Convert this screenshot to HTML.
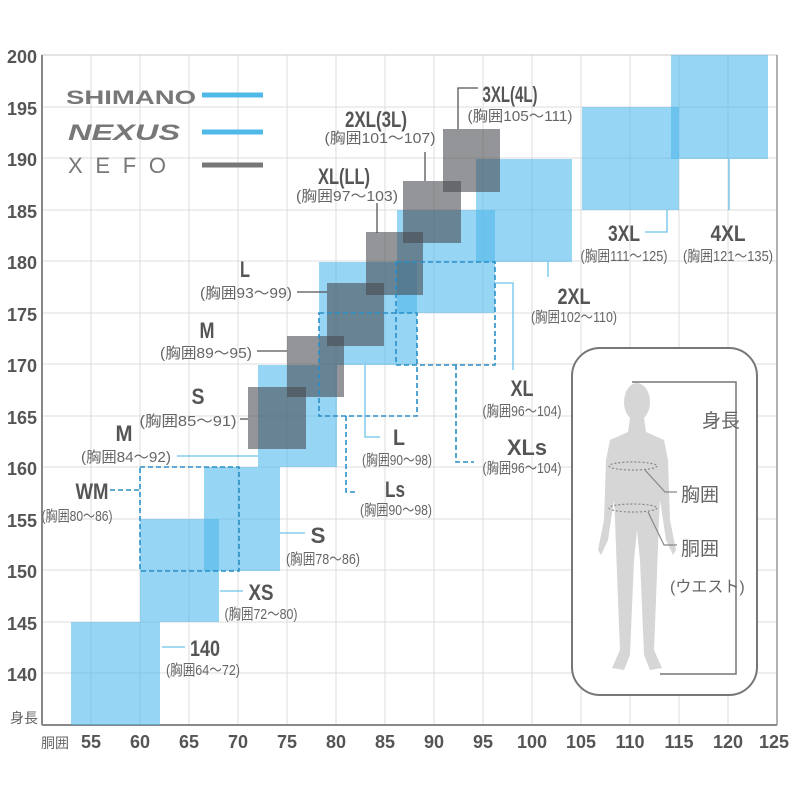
<!DOCTYPE html>
<html><head><meta charset="utf-8"><style>
body{margin:0;background:#fff}
svg{display:block}
.b{font-family:"Liberation Sans",sans-serif;font-weight:bold;font-size:22px;fill:#555;text-anchor:middle}
.s{font-family:"Liberation Sans","Noto Sans CJK JP",sans-serif;font-size:15px;fill:#666;text-anchor:middle}
.ax{font-family:"Liberation Sans",sans-serif;font-weight:bold;font-size:18px;fill:#555}
.j{font-family:"Liberation Sans","Noto Sans CJK JP",sans-serif;font-size:14px;fill:#666}
</style></head><body>
<svg width="800" height="800" viewBox="0 0 800 800" xmlns="http://www.w3.org/2000/svg">
<g stroke="#dcdcdc" stroke-width="1">
<line x1="91" y1="55" x2="91" y2="725"/><line x1="140" y1="55" x2="140" y2="725"/><line x1="189" y1="55" x2="189" y2="725"/><line x1="238" y1="55" x2="238" y2="725"/><line x1="287" y1="55" x2="287" y2="725"/><line x1="336" y1="55" x2="336" y2="725"/><line x1="385" y1="55" x2="385" y2="725"/><line x1="434" y1="55" x2="434" y2="725"/><line x1="483" y1="55" x2="483" y2="725"/><line x1="532" y1="55" x2="532" y2="725"/><line x1="581" y1="55" x2="581" y2="725"/><line x1="630" y1="55" x2="630" y2="725"/><line x1="679" y1="55" x2="679" y2="725"/><line x1="728" y1="55" x2="728" y2="725"/>
<line x1="42" y1="107" x2="777" y2="107"/><line x1="42" y1="158" x2="777" y2="158"/><line x1="42" y1="210" x2="777" y2="210"/><line x1="42" y1="261" x2="777" y2="261"/><line x1="42" y1="313" x2="777" y2="313"/><line x1="42" y1="364" x2="777" y2="364"/><line x1="42" y1="416" x2="777" y2="416"/><line x1="42" y1="467" x2="777" y2="467"/><line x1="42" y1="519" x2="777" y2="519"/><line x1="42" y1="570" x2="777" y2="570"/><line x1="42" y1="622" x2="777" y2="622"/><line x1="42" y1="673" x2="777" y2="673"/>
</g>
<rect x="42" y="55" width="735" height="670" fill="none" stroke="#c8c8c8"/>
<line x1="42" y1="55" x2="42" y2="725" stroke="#888" stroke-width="2"/>
<line x1="42" y1="725" x2="777" y2="725" stroke="#888" stroke-width="2"/>
<line x1="777" y1="55" x2="777" y2="725" stroke="#999" stroke-width="1.5"/>

<g fill="rgb(80,185,235)" fill-opacity="0.6">
<rect x="71" y="622" width="89" height="103"/>
<rect x="140" y="519" width="79" height="103"/>
<rect x="204" y="467" width="76" height="104"/>
<rect x="258" y="365" width="79" height="102"/>
<rect x="319" y="262" width="98" height="103"/>
<rect x="397" y="210" width="98" height="103"/>
<rect x="476" y="159" width="96" height="103"/>
<rect x="582" y="107" width="97" height="103"/>
<rect x="671" y="55" width="97" height="104"/>
</g>
<g fill="rgb(70,72,78)" fill-opacity="0.58">
<rect x="248" y="387" width="58" height="62"/>
<rect x="287" y="336" width="57" height="61"/>
<rect x="327" y="283" width="57" height="63"/>
<rect x="366" y="232" width="57" height="63"/>
<rect x="403" y="181" width="58" height="62"/>
<rect x="443" y="129" width="57" height="63"/>
</g>
<g fill="none" stroke="#2a8fc8" stroke-width="1.6" stroke-dasharray="5,3">
<rect x="140" y="467" width="99" height="104"/>
<rect x="319" y="313" width="98" height="103"/>
<rect x="396" y="262" width="99" height="103"/>
<polyline points="139,490 110,490"/>
<polyline points="456,365 456,462 474,462"/>
<polyline points="346,416 346,492 356,492"/>
</g>
<g fill="none" stroke-width="1.3">
<polyline stroke="#6cc3ea" points="162,647 185,647"/>
<polyline stroke="#6cc3ea" points="220,591 243,591"/>
<polyline stroke="#6cc3ea" points="280,533 305,533"/>
<polyline stroke="#6cc3ea" points="177,456 258,456"/>
<polyline stroke="#6cc3ea" points="365,365 365,437 380,437"/>
<polyline stroke="#6cc3ea" points="495,283 513,283 513,370"/>
<polyline stroke="#6cc3ea" points="548,262 548,277"/>
<polyline stroke="#6cc3ea" points="667,210 667,232 645,232"/>
<polyline stroke="#6cc3ea" points="729,159 729,210"/>
<polyline stroke="#555" points="240,419 248,419"/>
<polyline stroke="#555" points="257,351 287,351"/>
<polyline stroke="#555" points="297,292 327,292"/>
<polyline stroke="#555" points="377,233 377,203"/>
<polyline stroke="#555" points="425,181 425,152"/>
<polyline stroke="#555" points="458,129 458,88 478,88"/>
</g>
<g>
<text class="b" x="205" y="656" textLength="30" lengthAdjust="spacingAndGlyphs">140</text><text class="s" x="203" y="675" textLength="74" lengthAdjust="spacingAndGlyphs">(胸囲64～72)</text>
<text class="b" x="261" y="600" textLength="25" lengthAdjust="spacingAndGlyphs">XS</text><text class="s" x="261" y="619" textLength="73" lengthAdjust="spacingAndGlyphs">(胸囲72～80)</text>
<text class="b" x="318" y="543" textLength="15" lengthAdjust="spacingAndGlyphs">S</text><text class="s" x="323" y="564" textLength="74" lengthAdjust="spacingAndGlyphs">(胸囲78～86)</text>
<text class="b" x="92" y="499" textLength="33" lengthAdjust="spacingAndGlyphs">WM</text><text class="s" x="77" y="521" textLength="71" lengthAdjust="spacingAndGlyphs">(胸囲80～86)</text>
<text class="b" x="124" y="441" textLength="17" lengthAdjust="spacingAndGlyphs">M</text><text class="s" x="126" y="462" textLength="90" lengthAdjust="spacingAndGlyphs">(胸囲84～92)</text>
<text class="b" x="198" y="404" textLength="13" lengthAdjust="spacingAndGlyphs">S</text><text class="s" x="188" y="426" textLength="97" lengthAdjust="spacingAndGlyphs">(胸囲85～91)</text>
<text class="b" x="207" y="338" textLength="15" lengthAdjust="spacingAndGlyphs">M</text><text class="s" x="206" y="358" textLength="92" lengthAdjust="spacingAndGlyphs">(胸囲89～95)</text>
<text class="b" x="245" y="277" textLength="10" lengthAdjust="spacingAndGlyphs">L</text><text class="s" x="246" y="298" textLength="92" lengthAdjust="spacingAndGlyphs">(胸囲93～99)</text>
<text class="b" x="344" y="184" textLength="52" lengthAdjust="spacingAndGlyphs">XL(LL)</text><text class="s" x="347" y="201" textLength="102" lengthAdjust="spacingAndGlyphs">(胸囲97～103)</text>
<text class="b" x="376" y="127" textLength="62" lengthAdjust="spacingAndGlyphs">2XL(3L)</text><text class="s" x="380" y="143" textLength="111" lengthAdjust="spacingAndGlyphs">(胸囲101～107)</text>
<text class="b" x="510" y="102" textLength="55" lengthAdjust="spacingAndGlyphs">3XL(4L)</text><text class="s" x="520" y="121" textLength="105" lengthAdjust="spacingAndGlyphs">(胸囲105～111)</text>
<text class="b" x="574" y="304" textLength="33" lengthAdjust="spacingAndGlyphs">2XL</text><text class="s" x="574" y="322" textLength="86" lengthAdjust="spacingAndGlyphs">(胸囲102～110)</text>
<text class="b" x="624" y="241" textLength="32" lengthAdjust="spacingAndGlyphs">3XL</text><text class="s" x="624" y="261" textLength="87" lengthAdjust="spacingAndGlyphs">(胸囲111～125)</text>
<text class="b" x="728" y="241" textLength="35" lengthAdjust="spacingAndGlyphs">4XL</text><text class="s" x="728" y="261" textLength="90" lengthAdjust="spacingAndGlyphs">(胸囲121～135)</text>
<text class="b" x="522" y="396" textLength="23" lengthAdjust="spacingAndGlyphs">XL</text><text class="s" x="522" y="416" textLength="79" lengthAdjust="spacingAndGlyphs">(胸囲96～104)</text>
<text class="b" x="527" y="455" textLength="40" lengthAdjust="spacingAndGlyphs">XLs</text><text class="s" x="522" y="473" textLength="79" lengthAdjust="spacingAndGlyphs">(胸囲96～104)</text>
<text class="b" x="399" y="445" textLength="12" lengthAdjust="spacingAndGlyphs">L</text><text class="s" x="397" y="465" textLength="70" lengthAdjust="spacingAndGlyphs">(胸囲90～98)</text>
<text class="b" x="395" y="497" textLength="20" lengthAdjust="spacingAndGlyphs">Ls</text><text class="s" x="396" y="515" textLength="72" lengthAdjust="spacingAndGlyphs">(胸囲90～98)</text>
</g>

<text x="66" y="104" font-family="'Liberation Sans',sans-serif" font-weight="bold" font-size="19" fill="#777" textLength="130" lengthAdjust="spacingAndGlyphs">SHIMANO</text>
<text x="68" y="140" font-family="'Liberation Sans',sans-serif" font-weight="bold" font-style="italic" font-size="22" fill="#777" textLength="112" lengthAdjust="spacingAndGlyphs">NEXUS</text>
<text x="68" y="173" font-family="'Liberation Sans',sans-serif" font-size="22" fill="#777" textLength="98" lengthAdjust="spacing">XEFO</text>
<line x1="202" y1="95" x2="263" y2="95" stroke="#4fb9e8" stroke-width="5"/>
<line x1="202" y1="132" x2="263" y2="132" stroke="#4fb9e8" stroke-width="5"/>
<line x1="202" y1="165" x2="263" y2="165" stroke="#777" stroke-width="5"/>

<g class="ax" text-anchor="end">
<text x="37" y="63">200</text><text x="37" y="115">195</text><text x="37" y="166">190</text><text x="37" y="218">185</text><text x="37" y="269">180</text><text x="37" y="321">175</text><text x="37" y="372">170</text><text x="37" y="424">165</text><text x="37" y="475">160</text><text x="37" y="527">155</text><text x="37" y="578">150</text><text x="37" y="630">145</text><text x="37" y="681">140</text>
</g>
<text class="j" x="10" y="723">身長</text>
<text class="j" x="41" y="748">胴囲</text>
<g class="ax" text-anchor="middle">
<text x="91" y="748">55</text><text x="140" y="748">60</text><text x="189" y="748">65</text><text x="238" y="748">70</text><text x="287" y="748">75</text><text x="336" y="748">80</text><text x="385" y="748">85</text><text x="434" y="748">90</text><text x="483" y="748">95</text><text x="532" y="748">100</text><text x="581" y="748">105</text><text x="630" y="748">110</text><text x="679" y="748">115</text><text x="728" y="748">120</text><text x="774" y="748">125</text>
</g>

<rect x="572" y="348" width="185" height="347" rx="28" fill="#fff" stroke="#777" stroke-width="2"/>
<g fill="#d6d6d6">
<ellipse cx="637" cy="402" rx="13" ry="19"/>
<path d="M630,418 L644,418 L646,432 L664,440 L668,460 L670,520 L676,550 L673,555 L666,540 L660,500 L659,520 L656,600 L654,650 L662,668 L650,670 L644,655 L640,560 L637,530 L634,560 L630,655 L624,670 L612,668 L620,650 L618,600 L615,520 L614,500 L608,540 L601,555 L598,550 L604,520 L606,460 L610,440 L628,432 Z"/>
</g>
<g fill="none" stroke="#888" stroke-width="1.2">
<ellipse cx="633" cy="466" rx="24" ry="4" stroke-dasharray="2,2"/>
<ellipse cx="633" cy="508" rx="24" ry="4" stroke-dasharray="2,2"/>
<polyline points="645,470 665,492 677,492"/>
<polyline points="648,512 664,545 677,545"/>
<polyline points="632,382 736,382 736,674 660,674" stroke="#777" stroke-width="1.5"/>
</g>
<text class="j" x="702" y="427" style="font-size:19px">身長</text>
<text class="j" x="681" y="501" style="font-size:19px">胸囲</text>
<text class="j" x="681" y="555" style="font-size:19px">胴囲</text>
<text class="j" x="670" y="592" style="font-size:16px">(ウエスト)</text>
</svg>
</body></html>
